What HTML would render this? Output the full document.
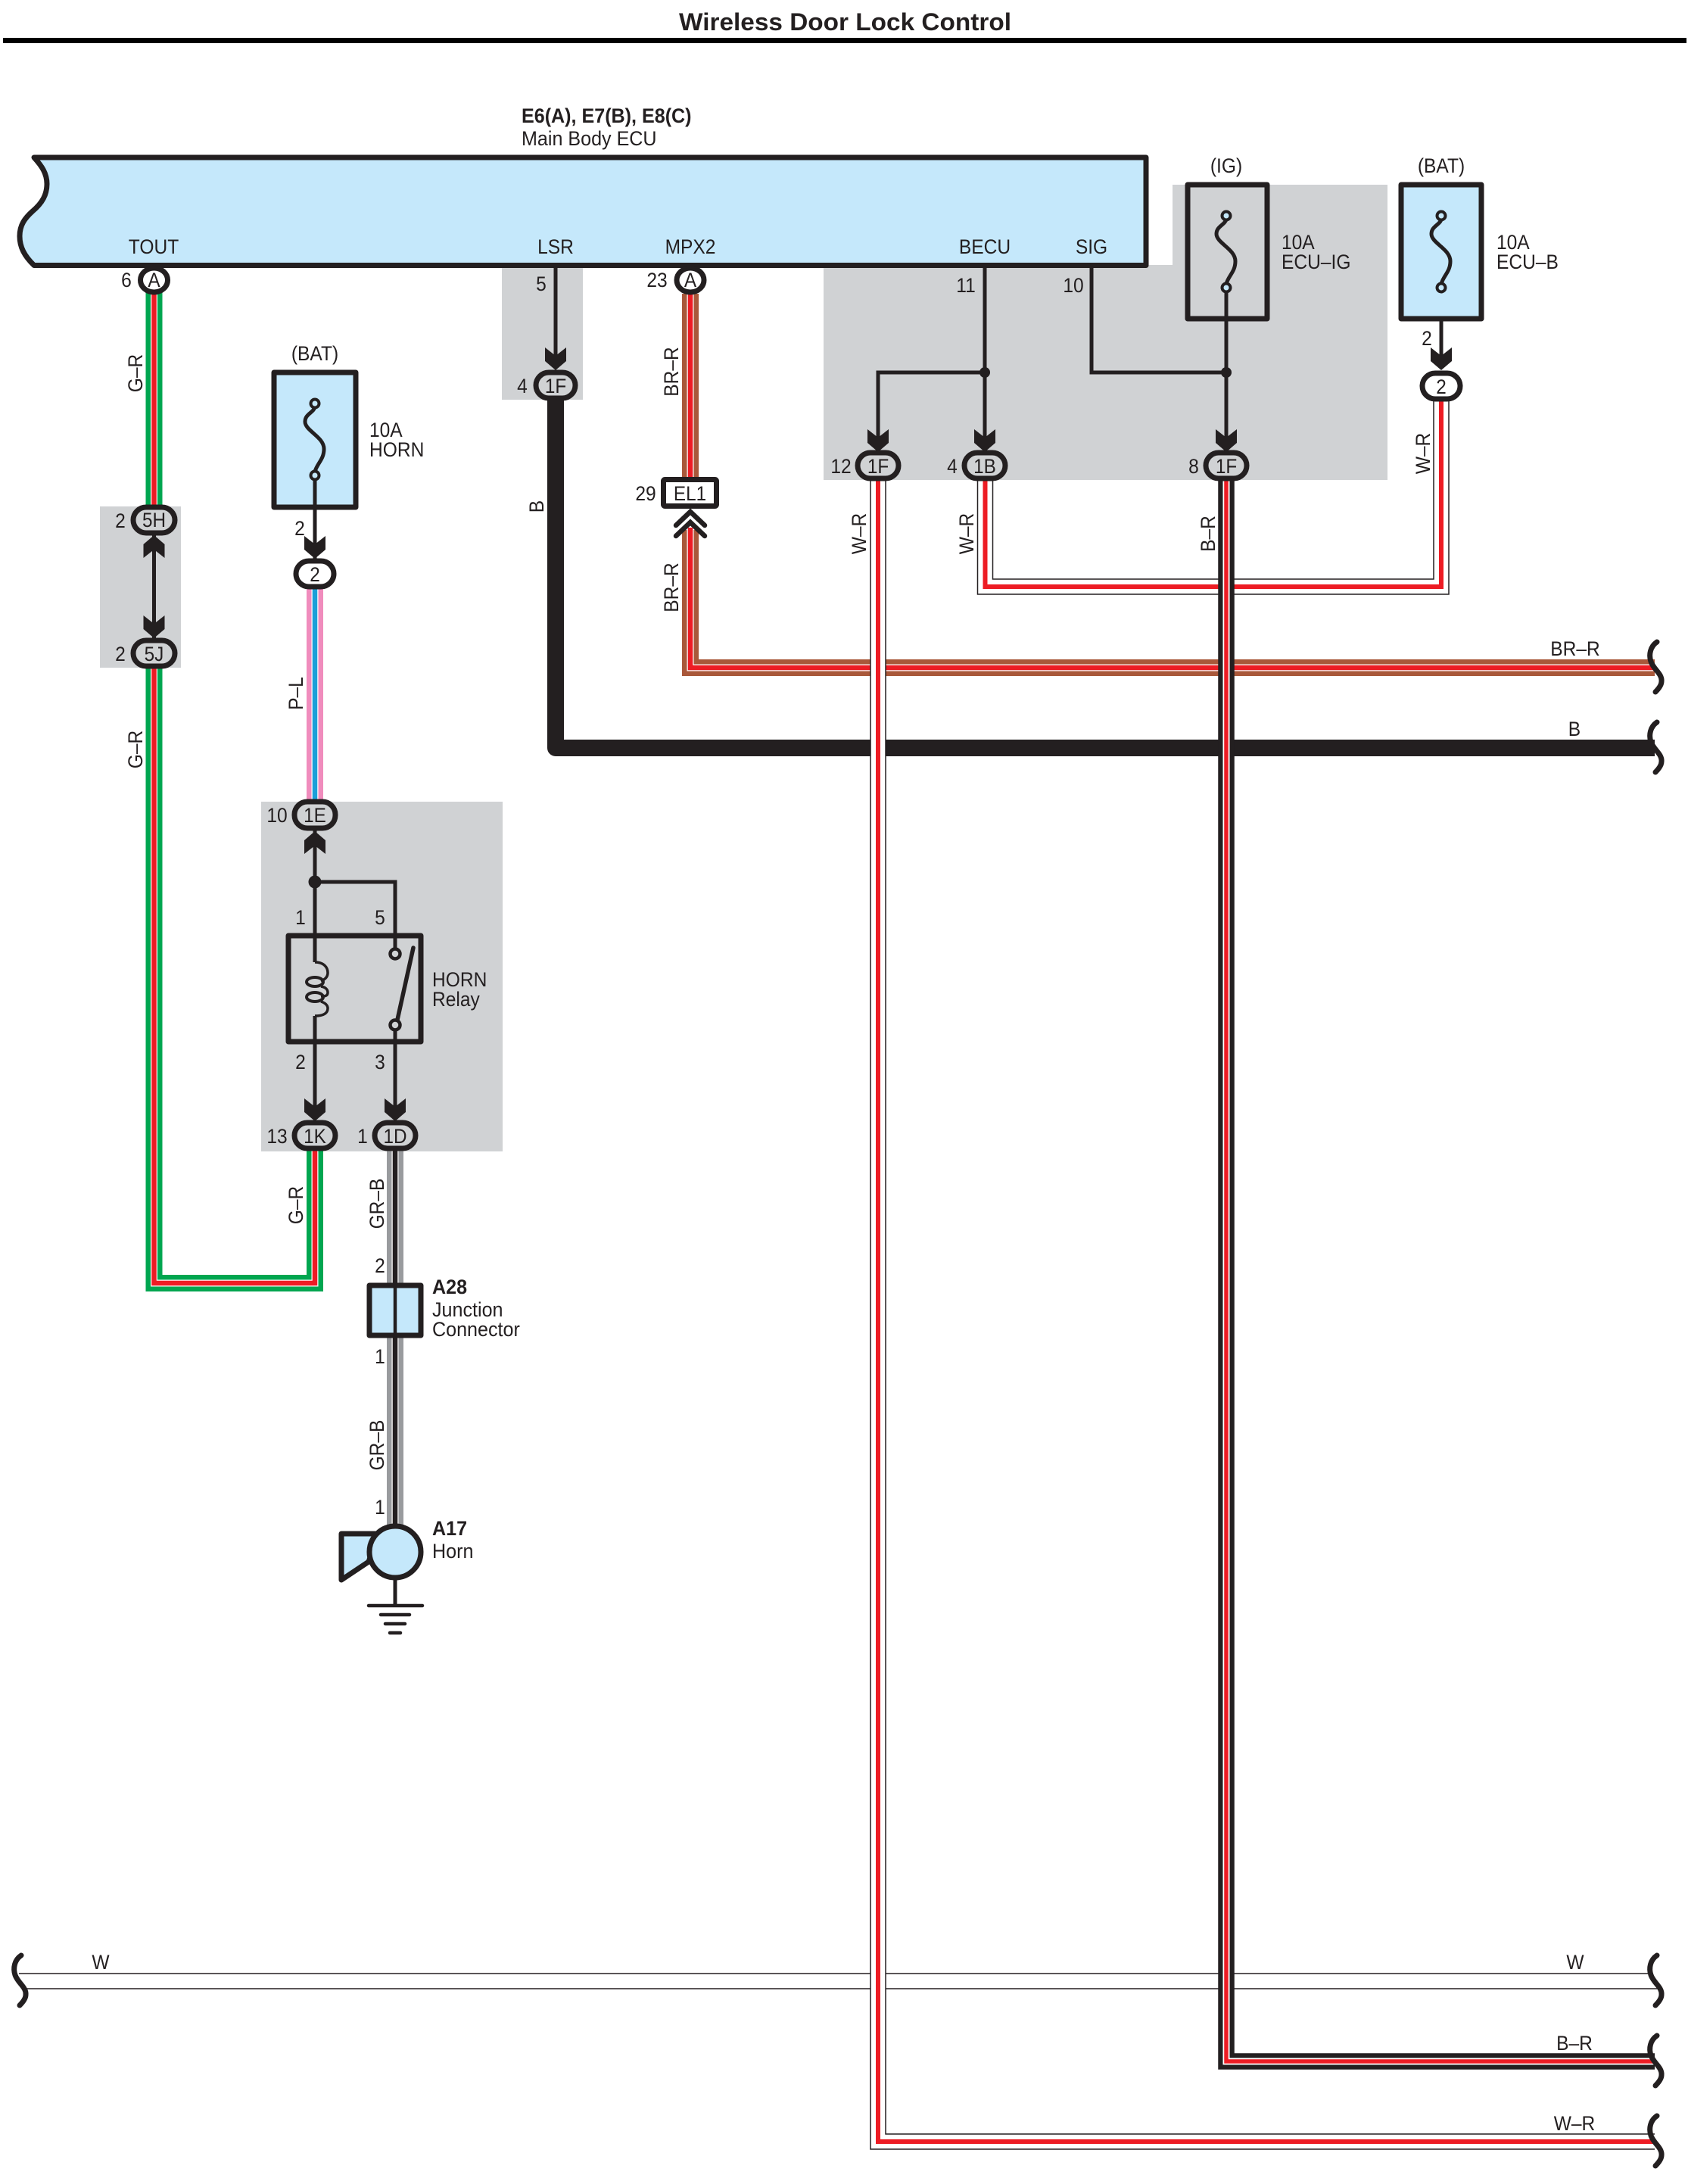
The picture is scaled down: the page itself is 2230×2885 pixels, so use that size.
<!DOCTYPE html>
<html><head><meta charset="utf-8"><title>Wireless Door Lock Control</title>
<style>
html,body{margin:0;padding:0;background:#fff}
svg{display:block}
text{font-family:"Liberation Sans",sans-serif;font-size:27px;fill:#231f20}
.m{text-anchor:middle}
.b{font-weight:bold}
.l{fill:none;stroke:#231f20;stroke-width:5}
.c{fill:#d0d2d4;stroke:#231f20;stroke-width:7}
.w{fill:#fff;stroke:#231f20;stroke-width:7}
.n{fill:none}
.box{stroke:#231f20;stroke-width:7;stroke-linejoin:round}
.sq{fill:none;stroke:#231f20;stroke-width:7;stroke-linecap:round}
</style></head><body>
<svg xmlns="http://www.w3.org/2000/svg" width="2230" height="2885" viewBox="0 0 2230 2885">
<defs>
<path id="ad" d="M0 0L-14 -12V-30L0 -19L14 -30V-12Z" fill="#231f20"/>
<path id="sq" class="sq" d="M2189 -34C2180 -28 2178 -17 2181 -8C2185 3 2196 8 2195 18C2195 23 2191 28 2187 32"/>
<g id="fu">
<path d="M0 5C-2 12 -13 14 -13 24C-13 36 12 44 12 60C12 74 3 79 0 90" fill="none" stroke="#231f20" stroke-width="5"/>
<circle cx="0" cy="0" r="5.5" fill="#c5e8fb" stroke="#231f20" stroke-width="4"/>
<circle cx="0" cy="95" r="5.5" fill="#c5e8fb" stroke="#231f20" stroke-width="4"/>
</g>
</defs>
<rect width="2230" height="2885" fill="#fff"/>

<!-- panels -->
<g fill="#d0d2d4">
<rect x="132" y="669" width="107" height="213"/>
<rect x="663" y="354" width="107" height="174"/>
<rect x="345" y="1059" width="319" height="462"/>
<path d="M1088 350H1549V244H1833V634H1088Z"/>
</g>

<!-- header -->
<text class="b m" x="1116.500" y="40" style="font-size:32px" textLength="439" lengthAdjust="spacingAndGlyphs">Wireless Door Lock Control</text>
<rect x="4" y="50" width="2224" height="7" fill="#000"/>

<!-- ECU -->
<text class="b" transform="translate(689 162) scale(.93 1)">E6(A), E7(B), E8(C)</text>
<text transform="translate(689 192) scale(.93 1)">Main Body ECU</text>
<path d="M45 208H1514V350.500H45C32 338 26 326 26 312C26 297 33 288 43 279C56 268 62 257 62 243C62 229 55 219 45 208Z" fill="#c5e8fb" stroke="#231f20" stroke-width="7" stroke-linejoin="round"/>

<!-- wires: BR-R -->
<g class="n">
<path d="M912 388V632" stroke="#a9583a" stroke-width="22"/>
<path d="M912 388V632" stroke="#fff" stroke-width="9"/>
<path d="M912 388V632" stroke="#ed1c24" stroke-width="6.500"/>
<path d="M912 700V882H2186" stroke="#a9583a" stroke-width="22"/>
<path d="M912 697V882H2186" stroke="#fff" stroke-width="9"/>
<path d="M912 697V882H2186" stroke="#ed1c24" stroke-width="6.500"/>
<!-- B -->
<path d="M734 525V988H2186" stroke="#231f20" stroke-width="22" stroke-linejoin="round"/>
<!-- W -->
<path d="M25 2607H2184M34 2627H2192" stroke="#231f20" stroke-width="1.6"/>
<!-- G-R -->
<path d="M203.500 385V669M203.500 880V1695H416V1515" stroke="#00a650" stroke-width="22"/>
<path d="M203.500 385V669M203.500 880V1695H416V1515" stroke="#fff" stroke-width="9"/>
<path d="M203.500 385V669M203.500 880V1695H416V1515" stroke="#ed1c24" stroke-width="6.500"/>
<!-- P-L -->
<path d="M416 775V1060" stroke="#f08cbd" stroke-width="22"/>
<path d="M416 775V1060" stroke="#fff" stroke-width="9"/>
<path d="M416 775V1060" stroke="#1b9fd8" stroke-width="6.500"/>
<!-- GR-B -->
<path d="M522 1515V2020" stroke="#999b9e" stroke-width="22"/>
<path d="M522 1515V2020" stroke="#fff" stroke-width="9"/>
<path d="M522 1515V2020" stroke="#231f20" stroke-width="6.500"/>
<!-- W-R 1F -->
<path d="M1160 630V2829H2186" stroke="#231f20" stroke-width="21.500"/>
<path d="M1160 630V2829H2190" stroke="#fff" stroke-width="18.500"/>
<path d="M1160 630V2829H2186" stroke="#ed1c24" stroke-width="6"/>
<!-- W-R 1B -->
<path d="M1301.500 630V775H1904V525" stroke="#231f20" stroke-width="21.500"/>
<path d="M1301.500 628V775H1904V523" stroke="#fff" stroke-width="18.500"/>
<path d="M1301.500 630V775H1904V525" stroke="#ed1c24" stroke-width="6"/>
<!-- B-R -->
<path d="M1620 630V2723H2186" stroke="#231f20" stroke-width="21.500"/>
<path d="M1620 630V2723H2186" stroke="#fff" stroke-width="9"/>
<path d="M1620 630V2723H2186" stroke="#ed1c24" stroke-width="5.500"/>
</g>

<!-- squiggles -->
<use href="#sq" transform="translate(0 882)"/>
<use href="#sq" transform="translate(0 988)"/>
<use href="#sq" transform="translate(0 2617)"/>
<use href="#sq" transform="translate(0 2723)"/>
<use href="#sq" transform="translate(0 2829)"/>
<use href="#sq" transform="translate(-2161 2617)"/>

<!-- thin lines -->
<path class="l" d="M734 352V480M203.500 700V850M416 628V745M416 1095V1235M416 1377V1470M416 1165H522V1253M522 1360V1470M1301 352V585M1442 352V492H1620M1301 492H1160V585M1620 380V585M1904 380V477"/>
<circle cx="1301" cy="492" r="7" fill="#231f20"/>
<circle cx="1620" cy="492" r="7" fill="#231f20"/>
<circle cx="416" cy="1165" r="8.500" fill="#231f20"/>

<!-- arrowheads down -->
<use href="#ad" x="734" y="489"/>
<use href="#ad" x="203.500" y="843"/>
<use href="#ad" x="416" y="738"/>
<use href="#ad" x="416" y="1481"/>
<use href="#ad" x="522" y="1481"/>
<use href="#ad" x="1160" y="597"/>
<use href="#ad" x="1301" y="597"/>
<use href="#ad" x="1620" y="597"/>
<use href="#ad" x="1904" y="489"/>
<!-- arrowheads up -->
<use href="#ad" transform="translate(203.500 707) scale(1 -1)"/>
<use href="#ad" transform="translate(416 1098) scale(1 -1)"/>

<!-- round A connectors -->
<ellipse class="w" cx="203.500" cy="370" rx="18" ry="16"/>
<text class="m" transform="translate(203.500 379) scale(.9 1)">A</text>
<ellipse class="w" cx="912" cy="370" rx="18" ry="16"/>
<text class="m" transform="translate(912 379) scale(.9 1)">A</text>

<!-- oval connectors -->
<rect class="c" x="176" y="670" width="55" height="34" rx="17"/>
<text class="m" transform="translate(203.500 696) scale(.9 1)">5H</text>
<rect class="c" x="176" y="846" width="55" height="34" rx="17"/>
<text class="m" transform="translate(203.500 873) scale(.9 1)">5J</text>
<rect class="c" x="708" y="492" width="52" height="34" rx="17"/>
<text class="m" transform="translate(734 519) scale(.9 1)">1F</text>
<rect class="w" x="391" y="741" width="50" height="34" rx="17"/>
<text class="m" transform="translate(416 768) scale(.9 1)">2</text>
<rect class="w" x="1879" y="493" width="50" height="34" rx="17"/>
<text class="m" transform="translate(1904 520) scale(.9 1)">2</text>
<rect class="c" x="389" y="1059" width="54" height="35" rx="17"/>
<text class="m" transform="translate(416 1086) scale(.9 1)">1E</text>
<rect class="c" x="389" y="1483" width="54" height="34" rx="17"/>
<text class="m" transform="translate(416 1510) scale(.9 1)">1K</text>
<rect class="c" x="495" y="1483" width="54" height="34" rx="17"/>
<text class="m" transform="translate(522 1510) scale(.9 1)">1D</text>
<rect class="c" x="1133" y="598" width="54" height="34" rx="17"/>
<text class="m" transform="translate(1160 625) scale(.9 1)">1F</text>
<rect class="c" x="1274" y="598" width="54" height="34" rx="17"/>
<text class="m" transform="translate(1301 625) scale(.9 1)">1B</text>
<rect class="c" x="1593" y="598" width="54" height="34" rx="17"/>
<text class="m" transform="translate(1620 625) scale(.9 1)">1F</text>

<!-- EL1 -->
<rect x="876.500" y="633.500" width="70" height="35" rx="2" fill="#fff" stroke="#231f20" stroke-width="7" stroke-linejoin="round"/>
<text class="m" transform="translate(911.500 661) scale(.9 1)">EL1</text>
<path d="M893 694L912 676L931 694M893 708L912 690L931 708" fill="none" stroke="#231f20" stroke-width="6.500" stroke-linecap="round"/>

<!-- fuses -->
<rect class="box" x="362" y="492" width="108" height="178" fill="#c5e8fb"/>
<use href="#fu" x="416" y="533"/>
<rect class="box" x="1569" y="244" width="105" height="177" fill="none"/>
<use href="#fu" x="1620" y="285"/>
<rect class="box" x="1851" y="244" width="106" height="177" fill="#c5e8fb"/>
<use href="#fu" x="1904" y="285"/>
<path class="l" d="M416 634V680"/>

<!-- relay -->
<rect x="381" y="1236" width="175" height="140" fill="none" stroke="#231f20" stroke-width="7" stroke-linejoin="round"/>
<path d="M416 1271C428 1271 433 1278 433 1285C433 1291 429 1294 424 1296M424 1303C430 1304 433 1307 433 1311C433 1316 429 1316 424 1316M424 1323C430 1325 433 1328 433 1332C433 1338 428 1342 416 1342" fill="none" stroke="#231f20" stroke-width="3.500"/>
<ellipse cx="416" cy="1297" rx="11" ry="6" fill="none" stroke="#231f20" stroke-width="4"/>
<ellipse cx="416" cy="1317" rx="11" ry="6" fill="none" stroke="#231f20" stroke-width="4"/>
<path d="M416 1235V1271M416 1342V1377" class="l"/>
<circle cx="522" cy="1260" r="6.500" fill="#d0d2d4" stroke="#231f20" stroke-width="4.500"/>
<circle cx="522" cy="1354" r="6.500" fill="#d0d2d4" stroke="#231f20" stroke-width="4.500"/>
<path d="M525 1347L546 1252" fill="none" stroke="#231f20" stroke-width="5.500" stroke-linecap="round"/>

<!-- A28 -->
<rect x="488" y="1698" width="68" height="66" fill="#c5e8fb" class="box"/>
<path d="M522 1695V1767" stroke="#231f20" stroke-width="4.500"/>

<!-- Horn -->
<path d="M451 2026H500L487 2063L451 2087Z" fill="#c5e8fb" class="box"/>
<circle cx="522" cy="2050" r="34" fill="#c5e8fb" stroke="#231f20" stroke-width="7"/>
<path d="M522 2086V2121" class="l"/>
<path d="M487 2121H558M503 2133H541M509 2145H535M515 2157H529" fill="none" stroke="#231f20" stroke-width="4.500" stroke-linecap="round"/>

<!-- pin names -->
<text class="m" transform="translate(203 335) scale(.91 1)">TOUT</text>
<text class="m" transform="translate(734 335) scale(.91 1)">LSR</text>
<text class="m" transform="translate(912 335) scale(.91 1)">MPX2</text>
<text class="m" transform="translate(1301 335) scale(.91 1)">BECU</text>
<text class="m" transform="translate(1442 335) scale(.91 1)">SIG</text>

<!-- pin numbers -->
<g class="m">
<text class="m" transform="translate(167 379) scale(.91 1)">6</text>
<text class="m" transform="translate(868 379) scale(.91 1)">23</text>
<text class="m" transform="translate(715 384) scale(.91 1)">5</text>
<text class="m" transform="translate(690 519) scale(.91 1)">4</text>
<text class="m" transform="translate(159 697) scale(.91 1)">2</text>
<text class="m" transform="translate(159 873) scale(.91 1)">2</text>
<text class="m" transform="translate(396 707) scale(.91 1)">2</text>
<text class="m" transform="translate(853 661) scale(.91 1)">29</text>
<text class="m" transform="translate(1276 386) scale(.91 1)">11</text>
<text class="m" transform="translate(1418 386) scale(.91 1)">10</text>
<text class="m" transform="translate(1885 456) scale(.91 1)">2</text>
<text class="m" transform="translate(1111 625) scale(.91 1)">12</text>
<text class="m" transform="translate(1258 625) scale(.91 1)">4</text>
<text class="m" transform="translate(1577 625) scale(.91 1)">8</text>
<text class="m" transform="translate(366 1086) scale(.91 1)">10</text>
<text class="m" transform="translate(366 1510) scale(.91 1)">13</text>
<text class="m" transform="translate(479 1510) scale(.91 1)">1</text>
<text class="m" transform="translate(397 1221) scale(.91 1)">1</text>
<text class="m" transform="translate(502 1221) scale(.91 1)">5</text>
<text class="m" transform="translate(397 1412) scale(.91 1)">2</text>
<text class="m" transform="translate(502 1412) scale(.91 1)">3</text>
<text class="m" transform="translate(502 1681) scale(.91 1)">2</text>
<text class="m" transform="translate(502 1801) scale(.91 1)">1</text>
<text class="m" transform="translate(502 2000) scale(.91 1)">1</text>
</g>

<!-- component labels -->
<text class="m" transform="translate(416 476) scale(.91 1)">(BAT)</text>
<text class="m" transform="translate(1620 228) scale(.91 1)">(IG)</text>
<text class="m" transform="translate(1904 228) scale(.91 1)">(BAT)</text>
<text transform="translate(488 577) scale(.91 1)">10A</text>
<text transform="translate(488 603) scale(.91 1)">HORN</text>
<text transform="translate(1693 329) scale(.91 1)">10A</text>
<text transform="translate(1693 355) scale(.91 1)">ECU–IG</text>
<text transform="translate(1977 329) scale(.91 1)">10A</text>
<text transform="translate(1977 355) scale(.91 1)">ECU–B</text>
<text transform="translate(571 1303) scale(.91 1)">HORN</text>
<text transform="translate(571 1329) scale(.91 1)">Relay</text>
<text class="b" transform="translate(571 1709) scale(.93 1)">A28</text>
<text transform="translate(571 1739) scale(.93 1)">Junction</text>
<text transform="translate(571 1765) scale(.93 1)">Connector</text>
<text class="b" transform="translate(571 2028) scale(.93 1)">A17</text>
<text transform="translate(571 2058) scale(.93 1)">Horn</text>

<!-- wire labels horizontal -->
<text class="m" transform="translate(2081 866) scale(.91 1)">BR–R</text>
<text class="m" transform="translate(2080 972) scale(.91 1)">B</text>
<text class="m" transform="translate(133 2601) scale(.91 1)">W</text>
<text class="m" transform="translate(2081 2601) scale(.91 1)">W</text>
<text class="m" transform="translate(2080 2708) scale(.91 1)">B–R</text>
<text class="m" transform="translate(2080 2814) scale(.91 1)">W–R</text>

<!-- wire labels rotated -->
<text class="m" transform="translate(188 493) rotate(-90) scale(.91 1)">G–R</text>
<text class="m" transform="translate(188 990) rotate(-90) scale(.91 1)">G–R</text>
<text class="m" transform="translate(400 1592) rotate(-90) scale(.91 1)">G–R</text>
<text class="m" transform="translate(400 916) rotate(-90) scale(.91 1)">P–L</text>
<text class="m" transform="translate(718 669) rotate(-90) scale(.91 1)">B</text>
<text class="m" transform="translate(896 491) rotate(-90) scale(.91 1)">BR–R</text>
<text class="m" transform="translate(896 776) rotate(-90) scale(.91 1)">BR–R</text>
<text class="m" transform="translate(507 1590) rotate(-90) scale(.91 1)">GR–B</text>
<text class="m" transform="translate(507 1909) rotate(-90) scale(.91 1)">GR–B</text>
<text class="m" transform="translate(1144 705) rotate(-90) scale(.91 1)">W–R</text>
<text class="m" transform="translate(1286 705) rotate(-90) scale(.91 1)">W–R</text>
<text class="m" transform="translate(1605 705) rotate(-90) scale(.91 1)">B–R</text>
<text class="m" transform="translate(1889 599) rotate(-90) scale(.91 1)">W–R</text>
</svg>
</body></html>
